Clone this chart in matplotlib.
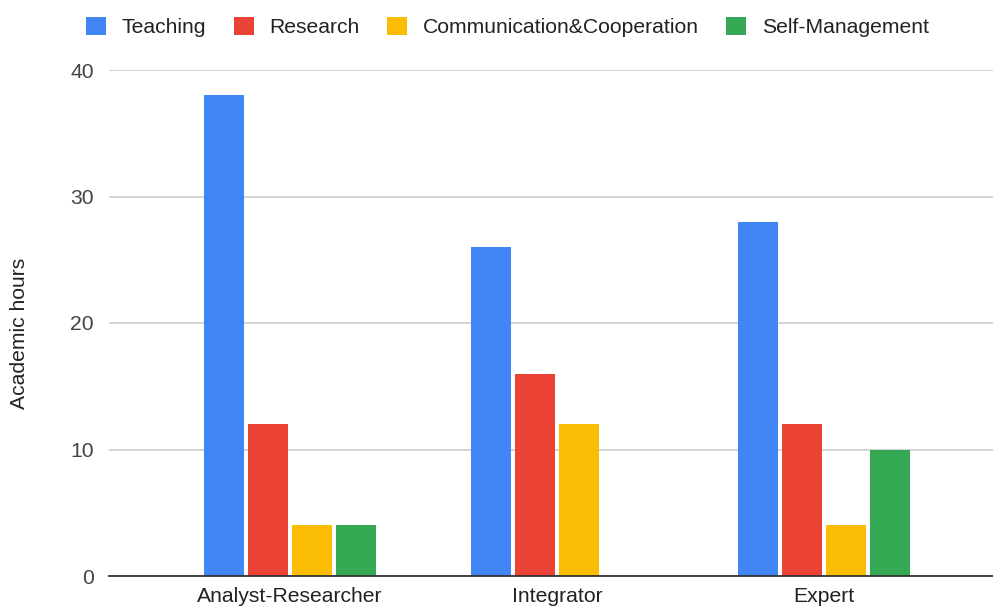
import matplotlib
matplotlib.use("Agg")
import matplotlib.pyplot as plt
import numpy as np
from matplotlib.patches import Patch

categories = ["Analyst-Researcher", "Integrator", "Expert"]
series_names = ["Teaching", "Research", "Communication&Cooperation", "Self-Management"]
teaching = [38, 26, 28]
research = [12, 16, 12]
communication = [4, 12, 4]
self_management = [4, 0, 10]
y_ticks = [0, 10, 20, 30, 40]

colors = ["#4285F4", "#EA4335", "#FBBC04", "#34A853"]
series = [teaching, research, communication, self_management]

plt.rcParams['font.family'] = ['Liberation Sans', 'DejaVu Sans']
fs = 15.2

fig = plt.figure(figsize=(9.93, 6.06), dpi=100)
ax = fig.add_axes([109/993, 30/606, 1 - 109/993, (576-70)/606])

x = np.arange(len(categories))
slot = 44/267
width = 40/267
for i, (vals, c) in enumerate(zip(series, colors)):
    off = (i - 1.5) * slot
    ax.bar(x + off, vals, width=width, color=c, zorder=3, linewidth=0)

ax.set_xlim(-0.678, 2.633)
ax.set_ylim(0, 40)
ax.set_yticks(y_ticks)
ax.set_xticks(x)
ax.set_xticklabels(categories, fontsize=fs, color="#222222")
ax.tick_params(axis='x', length=0, pad=8)
ax.tick_params(axis='y', length=0, pad=11, labelsize=fs, labelcolor="#444444")
ax.yaxis.grid(True, color="#cccccc", linewidth=1.2, zorder=0)
for s in ["top", "right", "left"]:
    ax.spines[s].set_visible(False)
ax.spines["bottom"].set_color("#333333")
ax.spines["bottom"].set_linewidth(1.3)
ax.spines["bottom"].set_zorder(4)

fig.text(20/993, 1 - 333/606, "Academic hours", rotation=90, ha='center', va='center',
         fontsize=fs, color="#222222")

handles = [Patch(facecolor=c, edgecolor='none') for c in colors]
fig.legend(handles, series_names, loc='center', bbox_to_anchor=(507.5/993, 1 - 27/606),
           ncol=4, frameon=False, fontsize=fs, handlelength=0.95, handleheight=0.95,
           handletextpad=0.75, columnspacing=1.3, labelcolor="#222222")

fig.savefig("out.png", dpi=100)
